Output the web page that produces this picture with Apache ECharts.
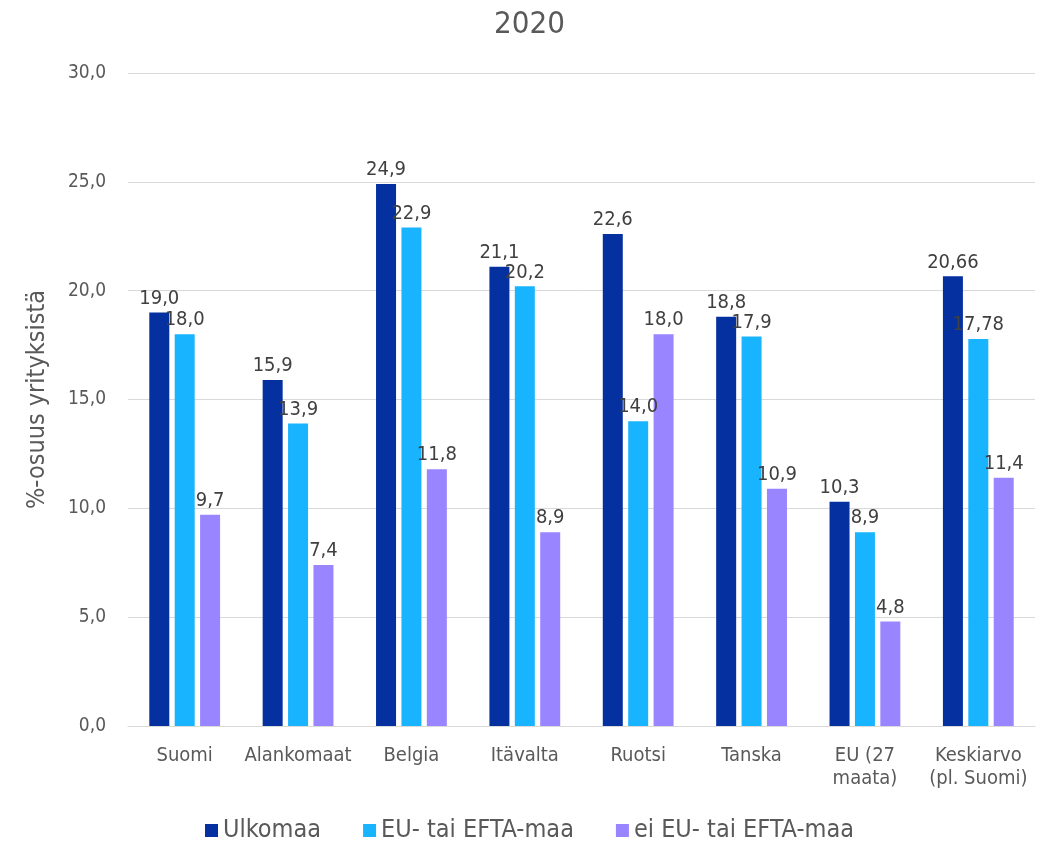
<!DOCTYPE html>
<html>
<head>
<meta charset="utf-8">
<script src="https://cdn.jsdelivr.net/npm/echarts@6/dist/echarts.min.js"></script>
<style>html,body{margin:0;padding:0;background:#fff}#c{width:1059px;height:842px}</style>
</head>
<body>
<div id="c"></div>
<script>
const categories = ['Suomi', 'Alankomaat', 'Belgia', 'Itävalta', 'Ruotsi', 'Tanska', 'EU (27\nmaata)', 'Keskiarvo\n(pl. Suomi)'];
const ulkomaa = [19.0, 15.9, 24.9, 21.1, 22.6, 18.8, 10.3, 20.66];
const euEfta = [18.0, 13.9, 22.9, 20.2, 14.0, 17.9, 8.9, 17.78];
const eiEuEfta = [9.7, 7.4, 11.8, 8.9, 18.0, 10.9, 4.8, 11.4];
const seriesNames = ['Ulkomaa', 'EU- tai EFTA-maa', 'ei EU- tai EFTA-maa'];
const colors = ['#0530A0', '#19B4FF', '#9985FF'];

const FONT = 'DejaVu Sans Condensed';
function fmt(v) {
  const s = Number.isInteger(v) ? v.toFixed(1) : String(v);
  return s.replace('.', ',');
}
const chart = echarts.init(document.getElementById('c'));
const mk = (name, data, i) => ({
  name, type: 'bar', data, barWidth: 20, barGap: '27%',
  itemStyle: { color: colors[i] },
  label: { show: true, position: 'top', distance: 4, color: '#404040', fontSize: 20, fontFamily: FONT,
    formatter: p => fmt(p.value) }
});
chart.setOption({
  animation: false,
  title: { text: '2020', left: 'center', top: 4, textStyle: { fontSize: 31, fontWeight: 'normal', color: '#595959', fontFamily: FONT } },
  legend: { top: 813, itemWidth: 13, itemHeight: 13, itemGap: 42, icon: 'rect',
    textStyle: { fontSize: 25, color: '#595959', fontFamily: FONT } },
  grid: { left: 128, right: 24, top: 73, bottom: 116 },
  xAxis: { type: 'category', data: categories,
    axisLine: { lineStyle: { color: '#d9d9d9' } }, axisTick: { show: false },
    axisLabel: { interval: 0, color: '#595959', fontSize: 20, fontFamily: FONT, margin: 18, lineHeight: 23 } },
  yAxis: { type: 'value', min: 0, max: 30, interval: 5,
    name: '%-osuus yrityksistä', nameLocation: 'middle', nameGap: 78, nameRotate: 90,
    nameTextStyle: { fontSize: 25, color: '#595959', fontFamily: FONT },
    axisLabel: { formatter: v => v.toFixed(1).replace('.', ','), color: '#595959', fontSize: 19, fontFamily: FONT, margin: 22 },
    splitLine: { lineStyle: { color: '#d9d9d9' } } },
  series: [mk(seriesNames[0], ulkomaa, 0), mk(seriesNames[1], euEfta, 1), mk(seriesNames[2], eiEuEfta, 2)]
});
</script>
</body>
</html>
